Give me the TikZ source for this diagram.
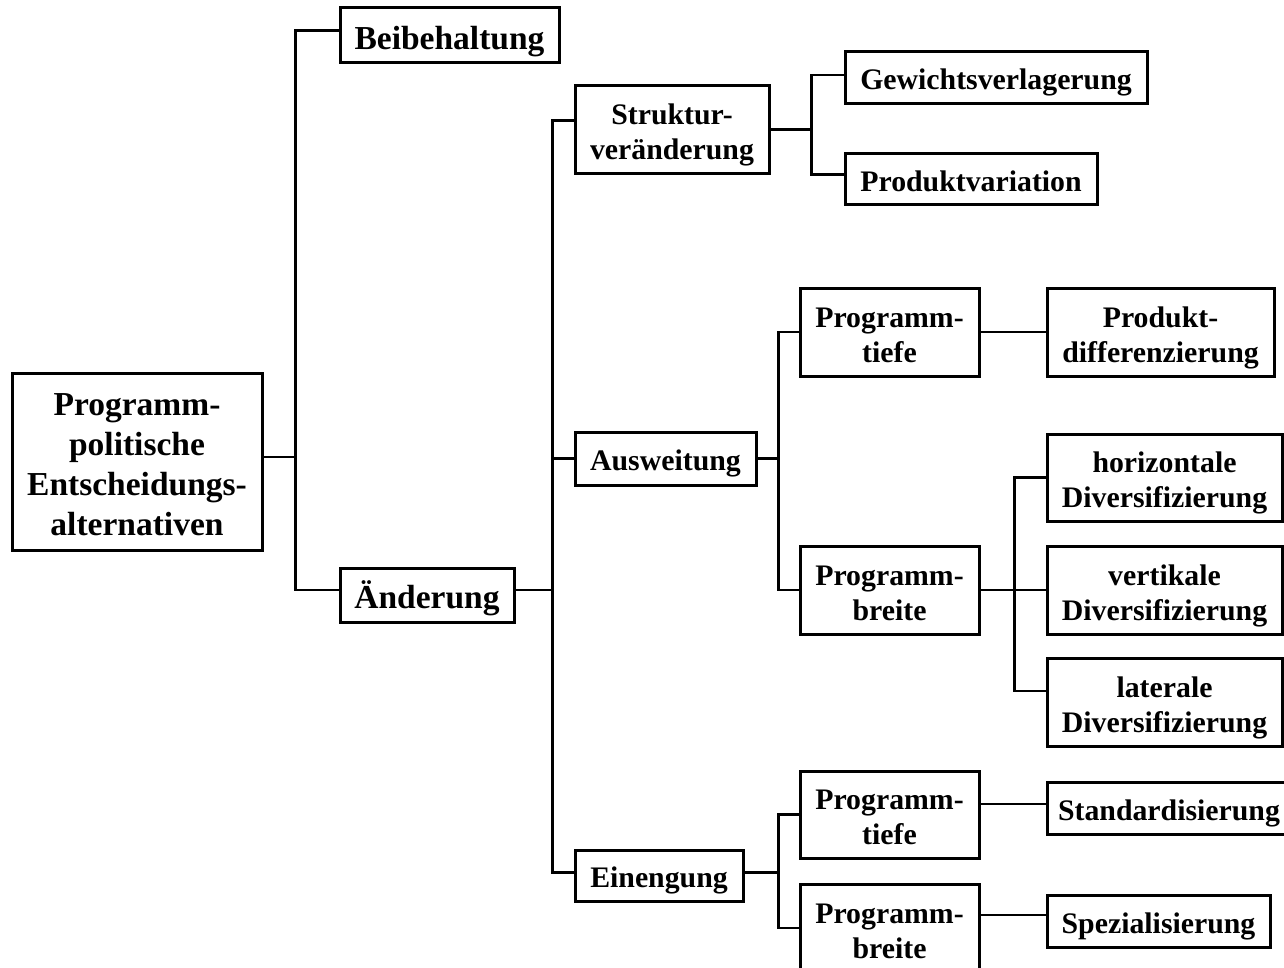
\documentclass[tikz,border=0pt]{standalone}
\usepackage{fontspec}
\setmainfont{Liberation Serif}

\tikzset{
  box/.style={draw, line width=1.5pt, align=center, inner sep=0pt,
    text height=12pt, text depth=0pt,
    font=\fontsize{14.9}{17.5}\selectfont\bfseries},
  twobox/.style={box, text height=30pt},
  bigbox/.style={box, text height=13pt,
    font=\fontsize{16.75}{20}\selectfont\bfseries},
  link/.style={line width=1.2pt}
}

\begin{document}
\begin{tikzpicture}[x=0.5pt,y=-0.5pt]
\clip (0,0) rectangle (1284,968);
\node[bigbox, text height=73.5pt, minimum width=125pt, minimum height=88.5pt] (root) at (137,461.5) {Programm-\\politische\\Entscheidungs-\\alternativen};
\node[bigbox, text height=14.5pt, minimum width=109.5pt, minimum height=27.5pt] (beib) at (449.5,35.5) {Beibehaltung};
\node[bigbox, minimum width=87pt, minimum height=27pt] (aend) at (427,595) {Änderung};
\node[twobox, minimum width=97pt, minimum height=44pt] (struk) at (672,129.5) {Struktur-\\veränderung};
\node[box, minimum width=90.5pt, minimum height=26.5pt] (ausw) at (665.5,458.5) {Ausweitung};
\node[box, minimum width=84pt, minimum height=25.5pt] (eineng) at (659,875.5) {Einengung};
\node[box, minimum width=151pt, minimum height=26pt] (gewicht) at (996,78) {Gewichtsverlagerung};
\node[box, minimum width=126pt, minimum height=25.5pt] (prodvar) at (971,179.5) {Produktvariation};
\node[twobox, minimum width=89.5pt, minimum height=44pt] (tiefeA) at (889.5,332) {Programm-\\tiefe};
\node[twobox, minimum width=89.5pt, minimum height=44pt] (breiteA) at (889.5,590) {Programm-\\breite};
\node[twobox, minimum width=113.5pt, minimum height=44pt] (proddiff) at (1160.5,332) {Produkt-\\differenzierung};
\node[twobox, minimum width=117.5pt, minimum height=43.5pt] (horiz) at (1164.5,477.5) {horizontale\\Diversifizierung};
\node[twobox, minimum width=117.5pt, minimum height=44pt] (vert) at (1164.5,590) {vertikale\\Diversifizierung};
\node[twobox, minimum width=117.5pt, minimum height=44pt] (lat) at (1164.5,702) {laterale\\Diversifizierung};
\node[twobox, minimum width=89.5pt, minimum height=43.5pt] (tiefeE) at (889.5,814.5) {Programm-\\tiefe};
\node[twobox, minimum width=89.5pt, minimum height=44pt] (breiteE) at (889.5,928) {Programm-\\breite};
\node[box, minimum width=122pt, minimum height=26pt] (stand) at (1169,808) {Standardisierung};
\node[box, minimum width=111.5pt, minimum height=26pt] (spez) at (1158.5,921) {Spezialisierung};

\draw[link] ([yshift=2.25pt]root.east) -- ++(32,0) |- ([yshift=2.5pt]beib.west);
\draw[link] ([yshift=2.25pt]root.east) -- ++(32,0) |- ([yshift=2.5pt]aend.west);
\draw[link] ([yshift=2.5pt]aend.east) -- ++(37,0) |- ([yshift=4.5pt]struk.west);
\draw[link] ([yshift=2.5pt]aend.east) -- ++(37,0) |- (ausw.west);
\draw[link] ([yshift=2.5pt]aend.east) -- ++(37,0) |- ([yshift=1.5pt]eineng.west);
\draw[link] (struk.east) -- ++(41,0) |- ([yshift=1.5pt]gewicht.west);
\draw[link] (struk.east) -- ++(41,0) |- ([yshift=2.5pt]prodvar.west);
\draw[link] (ausw.east) -- ++(21,0) |- (tiefeA.west);
\draw[link] (ausw.east) -- ++(21,0) |- (breiteA.west);
\draw[link] (tiefeA.east) -- (proddiff.west);
\draw[link] (breiteA.east) -- ++(34,0) |- (horiz.west);
\draw[link] (breiteA.east) -- ++(34,0) |- (vert.west);
\draw[link] (breiteA.east) -- ++(34,0) |- ([yshift=5.5pt]lat.west);
\draw[link] ([yshift=1.5pt]eineng.east) -- ++(34,0) |- (tiefeE.west);
\draw[link] ([yshift=1.5pt]eineng.east) -- ++(34,0) |- (breiteE.west);
\draw[link] ([yshift=2pt]stand.west -| tiefeE.east) -- ([yshift=2pt]stand.west);
\draw[link] ([yshift=3pt]spez.west -| breiteE.east) -- ([yshift=3pt]spez.west);
\end{tikzpicture}
\end{document}
